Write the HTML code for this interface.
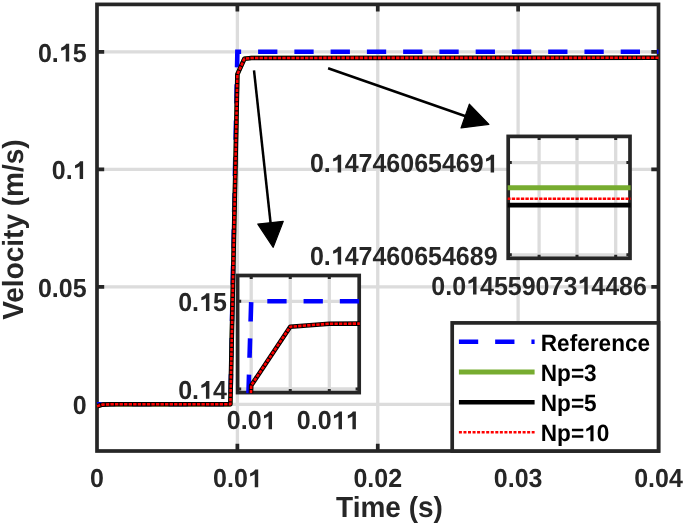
<!DOCTYPE html><html><head><meta charset="utf-8"><style>html,body{margin:0;padding:0;background:#fff;}svg{display:block;will-change:transform;}text{text-rendering:geometricPrecision;font-family:"Liberation Sans",sans-serif;font-weight:bold;fill:#262626;}</style></head><body>
<svg width="685" height="525" viewBox="0 0 685 525">
<rect width="685" height="525" fill="#fff"/>
<defs><clipPath id="cm"><rect x="96.4" y="4.4" width="562.7" height="446.6"/></clipPath>
<clipPath id="c1"><rect x="237.6" y="275.5" width="121.6" height="117.1"/></clipPath>
<clipPath id="c2"><rect x="508.2" y="136.4" width="121.8" height="121.9"/></clipPath>
<clipPath id="d1"><rect x="237" y="274.9" width="122.8" height="118.3"/></clipPath>
<clipPath id="d2"><rect x="507.6" y="135.8" width="123" height="123.1"/></clipPath></defs>
<path d="M237.38 4.4V451M377.75 4.4V451M518.12 4.4V451M97 404.3H658.5M97 286.8H658.5M97 169.3H658.5M97 51.8H658.5" stroke="#dcdcdc" stroke-width="3.3" fill="none"/>
<path d="M237.38 451v-7.2M237.38 4.4v7.2M377.75 451v-7.2M377.75 4.4v7.2M518.12 451v-7.2M518.12 4.4v7.2M97 404.3h7.2M658.5 404.3h-7.2M97 286.8h7.2M658.5 286.8h-7.2M97 169.3h7.2M658.5 169.3h-7.2M97 51.8h7.2M658.5 51.8h-7.2" stroke="#262626" stroke-width="3.7" fill="none"/>
<rect x="97" y="4.4" width="561.5" height="446.6" fill="none" stroke="#262626" stroke-width="3.7"/>
<g clip-path="url(#cm)">
<path d="M97 404.3 L230.36 404.3 L237.38 51.8 L658.5 51.8" stroke="#0000ff" stroke-width="4.6" fill="none" stroke-dasharray="19.3 16.96" stroke-dashoffset="0.99" stroke-linejoin="miter"/>
<path d="M97 406.2 L102.61 404.6 L111.04 404.3 L230.36 404.3 L237.38 74.36 L244.39 58.7 L251.41 57.95 L658.5 57.8" stroke="#77ac30" stroke-width="4.199999999999999" fill="none" stroke-linejoin="round"/>
<path d="M97 406.2 L102.61 404.6 L111.04 404.3 L230.36 404.3 L237.38 74.36 L244.39 58.7 L251.41 57.95 L658.5 57.8" stroke="#000000" stroke-width="4.6" fill="none" stroke-linejoin="round"/>
<path d="M97 406.2 L102.61 404.6 L111.04 404.3 L230.36 404.3 L237.38 74.36 L244.39 58.7 L251.41 57.95 L658.5 57.8" stroke="#ff0000" stroke-width="2.6" fill="none" stroke-dasharray="3.4 1.15" stroke-linejoin="round"/>
</g>
<text transform="matrix(1 0 0 1.04 0 -19.49)" x="90.05" y="487.2" font-size="25">0</text>
<text transform="matrix(1 0 0 1.04 0 -19.49)" x="213.05" y="487.2" font-size="25">0.0 </text><path d="M258.2 487.2L254.75 487.2L254.75 474.3C253.42 475.2 251.92 475.82 250.15 476.4L250.15 473.3C252.05 472.82 253.8 471.45 255.22 469.45L258.2 469.45Z" fill="#262626"/>
<text transform="matrix(1 0 0 1.04 0 -19.49)" x="353.42" y="487.2" font-size="25">0.02</text>
<text transform="matrix(1 0 0 1.04 0 -19.49)" x="493.8" y="487.2" font-size="25">0.03</text>
<text transform="matrix(1 0 0 1.04 0 -19.49)" x="634.17" y="487.2" font-size="25">0.04</text>
<text transform="matrix(1 0 0 1.04 0 -16.56)" x="72.7" y="414.1" font-size="25">0</text>
<text transform="matrix(1 0 0 1.04 0 -11.86)" x="37.94" y="296.6" font-size="25">0.05</text>
<text transform="matrix(1 0 0 1.04 0 -7.16)" x="51.85" y="179.1" font-size="25">0. </text><path d="M83.1 179.1L79.65 179.1L79.65 166.2C78.32 167.1 76.82 167.73 75.05 168.3L75.05 165.2C76.95 164.73 78.7 163.35 80.12 161.35L83.1 161.35Z" fill="#262626"/>
<text transform="matrix(1 0 0 1.04 0 -2.46)" x="37.94" y="61.6" font-size="25">0. 5</text><path d="M69.19 61.6L65.74 61.6L65.74 48.7C64.42 49.6 62.92 50.23 61.14 50.8L61.14 47.7C63.04 47.23 64.79 45.85 66.22 43.85L69.19 43.85Z" fill="#262626"/>
<text transform="matrix(1 0 0 1.04 0 -20.67)" x="389.5" y="516.8" font-size="28" text-anchor="middle">Time (s)</text>
<text transform="translate(22.9 229.6) rotate(-90) scale(1 1.04)" x="0" y="0" font-size="28" text-anchor="middle">Velocity (m/s)</text>
<rect x="452.2" y="322.9" width="206.3" height="128.1" fill="#fff" stroke="#262626" stroke-width="3.7"/>
<path d="M458.9 341.8H534.6" stroke="#0000ff" stroke-width="4.6" stroke-dasharray="19.3 16.96"/>
<path d="M458.9 372H534.6" stroke="#77ac30" stroke-width="5.0"/>
<path d="M458.9 402.2H534.6" stroke="#000000" stroke-width="4.6"/>
<path d="M458.9 432.2H534.6" stroke="#ff0000" stroke-width="2.6" stroke-dasharray="3 1.55"/>
<text transform="matrix(1 0 0 1.04 0 -14.02)" x="540.8" y="350.5" font-size="22.6" style="fill:#000">Reference</text>
<text transform="matrix(1 0 0 1.04 0 -15.22)" x="540.8" y="380.6" font-size="22.6" style="fill:#000">Np=3</text>
<text transform="matrix(1 0 0 1.04 0 -16.44)" x="540.8" y="410.9" font-size="22.6" style="fill:#000">Np=5</text>
<text transform="matrix(1 0 0 1.04 0 -17.65)" x="540.8" y="441.2" font-size="22.6" style="fill:#000">Np= 0</text><path d="M593.53 441.2L590.41 441.2L590.41 429.54C589.21 430.35 587.85 430.92 586.25 431.44L586.25 428.63C587.97 428.2 589.55 426.96 590.84 425.15L593.53 425.15Z" fill="#000"/>
<rect x="237.6" y="275.5" width="121.6" height="117.1" fill="#fff"/>
<path d="M251.2 275.5V392.6M290.25 275.5V392.6M329.3 275.5V392.6M237.6 301.3H359.2M237.6 389H359.2" stroke="#dcdcdc" stroke-width="3.3" fill="none" clip-path="url(#c1)"/>
<rect x="237.6" y="275.5" width="121.6" height="117.1" fill="none" stroke="#262626" stroke-width="3.7"/>
<path d="M251.2 275.5v3.6M251.2 392.6v-3.6M290.25 275.5v3.6M290.25 392.6v-3.6M329.3 275.5v3.6M329.3 392.6v-3.6M237.6 301.3h3.6M359.2 301.3h-3.6M237.6 389h3.6M359.2 389h-3.6" stroke="#262626" stroke-width="3" fill="none"/>
<g clip-path="url(#d1)">
<path d="M212.15 1616.8 L251.2 301.3 L407.4 301.3" stroke="#0000ff" stroke-width="4.6" fill="none" stroke-dasharray="19.3 16.96" stroke-dashoffset="9.44"/>
<path d="M212.15 1616.8 L251.2 385.5 L290.25 326.7 L329.3 323.7 L407.4 323.6" stroke="#000000" stroke-width="4.6" fill="none" stroke-linejoin="round"/>
<path d="M212.15 1616.8 L251.2 385.5 L290.25 326.7 L329.3 323.7 L407.4 323.6" stroke="#ff0000" stroke-width="2.6" fill="none" stroke-dasharray="3.4 1.15" stroke-linejoin="round"/>
</g>
<text transform="matrix(1 0 0 1.04 0 -17.17)" x="226.87" y="429.2" font-size="25">0.0 </text><path d="M272.02 429.2L268.57 429.2L268.57 416.3C267.25 417.2 265.75 417.82 263.97 418.4L263.97 415.3C265.87 414.82 267.62 413.45 269.05 411.45L272.02 411.45Z" fill="#262626"/>
<text transform="matrix(1 0 0 1.04 0 -17.17)" x="296.82" y="429.2" font-size="25">0.0  </text><path d="M341.97 429.2L338.52 429.2L338.52 416.3C337.2 417.2 335.7 417.82 333.92 418.4L333.92 415.3C335.82 414.82 337.57 413.45 339 411.45L341.97 411.45ZM355.88 429.2L352.43 429.2L352.43 416.3C351.1 417.2 349.6 417.82 347.83 418.4L347.83 415.3C349.73 414.82 351.48 413.45 352.9 411.45L355.88 411.45Z" fill="#262626"/>
<text transform="matrix(1 0 0 1.04 0 -12.44)" x="178.14" y="311.1" font-size="25">0. 5</text><path d="M209.39 311.1L205.94 311.1L205.94 298.2C204.62 299.1 203.12 299.73 201.34 300.3L201.34 297.2C203.24 296.73 204.99 295.35 206.42 293.35L209.39 293.35Z" fill="#262626"/>
<text transform="matrix(1 0 0 1.04 0 -15.95)" x="178.14" y="398.8" font-size="25">0. 4</text><path d="M209.39 398.8L205.94 398.8L205.94 385.9C204.62 386.8 203.12 387.43 201.34 388L201.34 384.9C203.24 384.43 204.99 383.05 206.42 381.05L209.39 381.05Z" fill="#262626"/>
<rect x="508.2" y="136.4" width="121.8" height="121.9" fill="#fff"/>
<path d="M539.1 136.4V258.3M577 136.4V258.3M615.7 136.4V258.3M508.2 162.6H630M508.2 254.8H630" stroke="#dcdcdc" stroke-width="3.3" fill="none" clip-path="url(#c2)"/>
<rect x="508.2" y="136.4" width="121.8" height="121.9" fill="none" stroke="#262626" stroke-width="3.7"/>
<path d="M539.1 136.4v3.6M539.1 258.3v-3.6M577 136.4v3.6M577 258.3v-3.6M615.7 136.4v3.6M615.7 258.3v-3.6M508.2 162.6h3.6M630 162.6h-3.6M508.2 254.8h3.6M630 254.8h-3.6" stroke="#262626" stroke-width="3" fill="none"/>
<g clip-path="url(#d2)">
<path d="M507.2 187.7H631" stroke="#77ac30" stroke-width="5.0"/>
<path d="M507.2 205.1H631" stroke="#000000" stroke-width="4.6"/>
<path d="M507.2 198.8H631" stroke="#ff0000" stroke-width="2.6" stroke-dasharray="3.4 1.15"/>
</g>
<text transform="matrix(1 0 0 1.04 0 -6.9)" x="309.9" y="172.4" font-size="25">0. 4746065469 </text><path d="M341.15 172.4L337.7 172.4L337.7 159.5C336.38 160.4 334.88 161.03 333.1 161.6L333.1 158.5C335 158.03 336.75 156.65 338.18 154.65L341.15 154.65ZM494.1 172.4L490.65 172.4L490.65 159.5C489.32 160.4 487.82 161.03 486.05 161.6L486.05 158.5C487.95 158.03 489.7 156.65 491.12 154.65L494.1 154.65Z" fill="#262626"/>
<text transform="matrix(1 0 0 1.04 0 -10.58)" x="309.9" y="264.6" font-size="25">0. 47460654689</text><path d="M341.15 264.6L337.7 264.6L337.7 251.7C336.38 252.6 334.88 253.23 333.1 253.8L333.1 250.7C335 250.23 336.75 248.85 338.18 246.85L341.15 246.85Z" fill="#262626"/>
<text transform="matrix(1 0 0 1.04 0 -11.78)" x="431.35" y="294.6" font-size="25">0.0 4559073 4486</text><path d="M476.5 294.6L473.05 294.6L473.05 281.7C471.73 282.6 470.23 283.23 468.45 283.8L468.45 280.7C470.35 280.23 472.1 278.85 473.53 276.85L476.5 276.85ZM587.73 294.6L584.28 294.6L584.28 281.7C582.96 282.6 581.46 283.23 579.68 283.8L579.68 280.7C581.58 280.23 583.33 278.85 584.76 276.85L587.73 276.85Z" fill="#262626"/>
<path d="M254 70.3L270.75 224.73" stroke="#000" stroke-width="2.5" stroke-linecap="butt"/>
<path d="M273.2 247.3L257.81 224.12L283.26 221.36Z" fill="#000" stroke="#000" stroke-width="1.2" stroke-linejoin="round"/>
<path d="M328.1 68.3L467.09 116.7" stroke="#000" stroke-width="2.5" stroke-linecap="butt"/>
<path d="M488.9 124.3L461.05 127.94L469.34 104.15Z" fill="#000" stroke="#000" stroke-width="1.2" stroke-linejoin="round"/>
</svg></body></html>
